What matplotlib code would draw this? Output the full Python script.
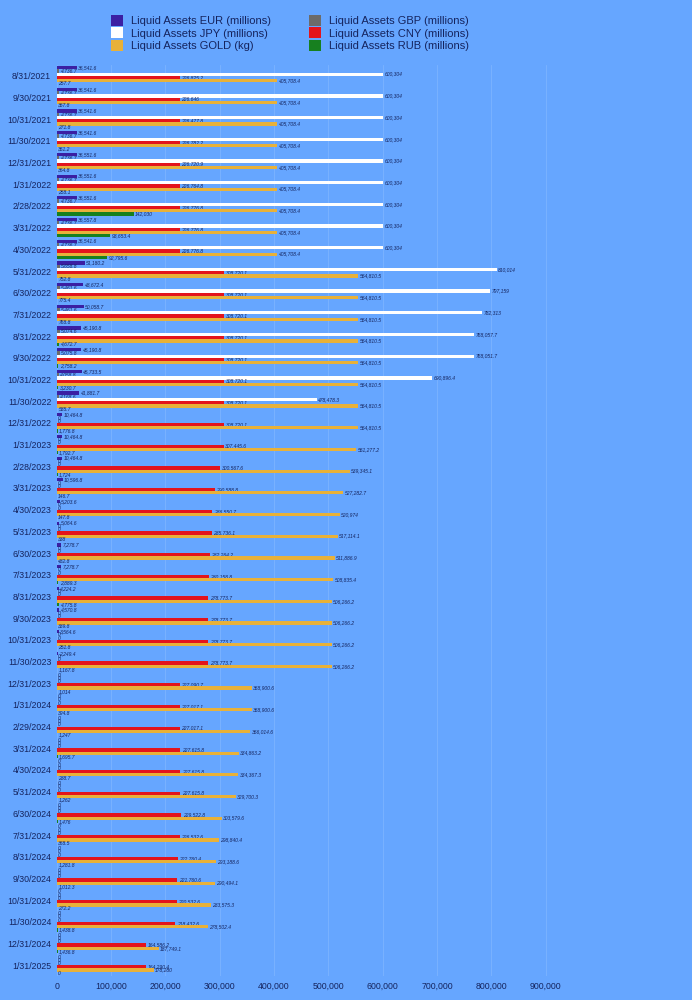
import matplotlib
matplotlib.use('Agg')
import matplotlib.pyplot as plt
import numpy as np
from matplotlib.ticker import FuncFormatter

dates = ['8/31/2021', '9/30/2021', '10/31/2021', '11/30/2021', '12/31/2021',
         '1/31/2022', '2/28/2022', '3/31/2022', '4/30/2022', '5/31/2022', '6/30/2022',
         '7/31/2022', '8/31/2022', '9/30/2022', '10/31/2022', '11/30/2022', '12/31/2022',
         '1/31/2023', '2/28/2023', '3/31/2023', '4/30/2023', '5/31/2023', '6/30/2023',
         '7/31/2023', '8/31/2023', '9/30/2023', '10/31/2023', '11/30/2023', '12/31/2023',
         '1/31/2024', '2/29/2024', '3/31/2024', '4/30/2024', '5/31/2024', '6/30/2024',
         '7/31/2024', '8/31/2024', '9/30/2024', '10/31/2024', '11/30/2024', '12/31/2024',
         '1/31/2025']

eur = [36541.6, 36541.6, 36541.6, 36541.6, 36551.6, 36551.6, 36551.6, 36557.8, 36541.6,
       51180.2, 48672.4, 50058.7, 45190.8, 45190.8, 45733.5, 41881.7,
       10464.8, 10464.8, 10464.8, 10596.8,
       5203.6, 5064.6, 7278.7, 7278.7, 4224.2, 4570.8, 3564.6, 2249.4] + [0] * 14
gbp = [4736.7] * 9 + [5658.8, 5461.6, 5461.6, 5074.6, 5075.8, 4058.8, 4168.6] + [0] * 26
jpy = [600304] * 9 + [810014, 797159, 782313, 768057.7, 768051.7, 690896.4, 478478.3] + [0] * 26
cny = [226825.2, 226646, 226477.8, 226782.2, 226720.9, 226764.8, 226776.8, 226776.8, 226776.8] \
    + [308720.1] * 8 \
    + [307445.6, 300567.6, 290588.8, 286550.7, 285736.1, 282264.2, 280158.8,
       278773.7, 278773.7, 278773.7, 278773.7,
       227090.7, 227017.1, 227017.1, 227615.8, 227615.8, 227615.8, 229522.8,
       226532.6, 222760.4, 221760.6, 220532.6, 218432.6, 164586.2, 164290.4]
gold = [405708.4] * 9 + [554810.5] * 8 \
    + [551277.2, 539345.1, 527282.7, 520974, 517114.1, 511886.9, 508835.4,
       506266.2, 506266.2, 506266.2, 506266.2,
       358900.6, 358900.6, 356014.6, 334863.2, 334367.3, 329700.3, 303579.6,
       298840.4, 293188.6, 290494.1, 283575.3, 278502.4, 187749.1, 178280]
rub = [257.7, 357.8, 271.8, 351.2, 364.8, 258.1, 142030.0, 98653.4, 92795.6,
       752.8, 775.4, 768.8, 4672.7, 2758.2, 3230.7, 585.7,
       1776.8, 1792.7, 1724, 146.7, 147.8, 338, 482.8, 2889.3, 4775.8, 389.8, 251.8, 1167.8,
       1014, 394.8, 1247, 1695.7, 288.7, 1262, 1476, 368.5, 1281.8, 1012.3, 272.2,
       1438.8, 1436.8, 0]

series = [
    ('Liquid Assets EUR (millions)', eur, '#3b1fa3'),
    ('Liquid Assets GBP (millions)', gbp, '#6b6b6b'),
    ('Liquid Assets JPY (millions)', jpy, '#ffffff'),
    ('Liquid Assets CNY (millions)', cny, '#e3141c'),
    ('Liquid Assets GOLD (kg)', gold, '#e8b13a'),
    ('Liquid Assets RUB (millions)', rub, '#17801f'),
]

BG = '#66a6ff'
TXT = '#15245e'

plt.rcParams['font.family'] = ['Liberation Sans', 'DejaVu Sans']


def fmt(v):
    if float(v).is_integer():
        return '{:,}'.format(int(v))
    return '{:,.1f}'.format(v)


fig = plt.figure(figsize=(6.92, 10), dpi=100, facecolor=BG)
ax = fig.add_axes([0.082, 0.024, 0.785, 0.911], facecolor=BG)

y = np.arange(len(dates))
h = 0.15
handles = []
for k, (name, vals, col) in enumerate(series):
    bars = ax.barh(y + (k - 2.5) * h, vals, height=h, color=col, label=name, zorder=3)
    ax.bar_label(bars, labels=[fmt(v) for v in vals], padding=1, fontsize=3.6,
                 color=TXT, style='italic')
    handles.append(bars)

ax.set_ylim(len(dates) - 0.5, -0.5)
ax.set_xlim(0, 1000000)
ax.set_yticks(y)
ax.set_yticklabels(dates, fontsize=6.3, color=TXT)
ax.set_xticks(np.arange(0, 1000000, 100000))
ax.xaxis.set_major_formatter(FuncFormatter(lambda v, p: '{:,.0f}'.format(v)))
ax.tick_params(axis='x', labelsize=6.3, colors=TXT, length=0, pad=4)
ax.tick_params(axis='y', length=0, pad=4)
ax.grid(axis='x', color='#7cb4ff', linewidth=0.6, zorder=0)
for s in ax.spines.values():
    s.set_visible(False)

order = [0, 2, 4, 1, 3, 5]
fig.legend([handles[i] for i in order], [series[i][0] for i in order],
           loc='upper left', bbox_to_anchor=(0.146, 0.995), ncol=2, frameon=False,
           fontsize=8, handlelength=1.1, handleheight=1.1, columnspacing=3.4,
           labelspacing=0.12, handletextpad=0.7, labelcolor=TXT)

fig.savefig('out.png', dpi=100, facecolor=BG)
